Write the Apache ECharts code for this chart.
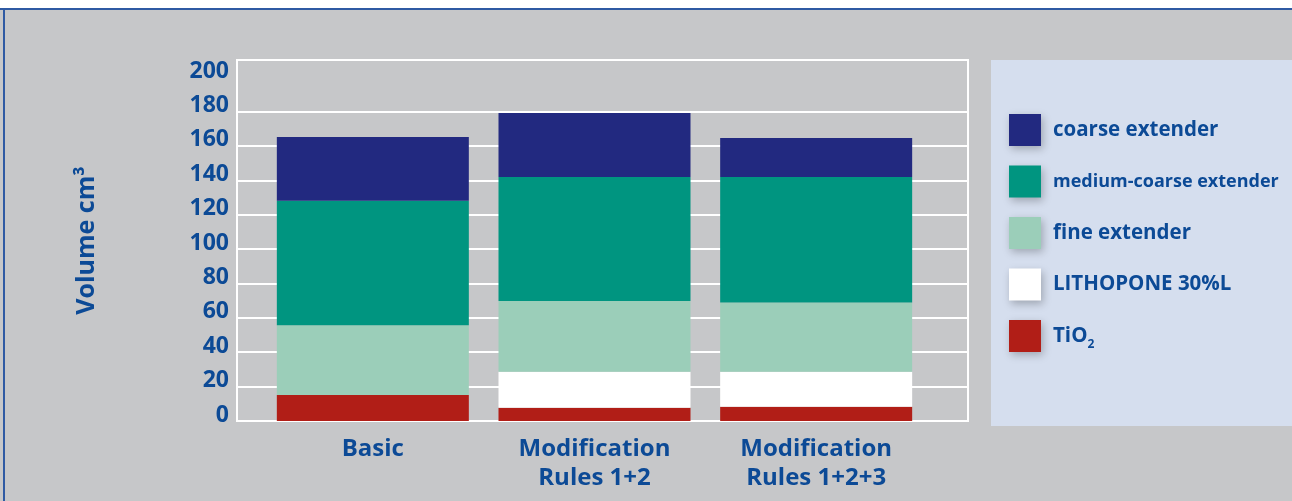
<!DOCTYPE html>
<html>
<head>
<meta charset="utf-8">
<script src="https://cdn.jsdelivr.net/npm/echarts@6/dist/echarts.min.js"></script>
<style>
html, body { margin: 0; padding: 0; background: #fff; }
#chart { width: 1292px; height: 501px; }
</style>
</head>
<body>
<div id="chart"></div>
<script>
// data (volume in cm3), bottom of stack first
var categories = ['Basic', 'Modification\nRules 1+2', 'Modification\nRules 1+2+3'];
var tio2 = [15.1, 7.7, 8.3];
var lithopone = [0, 20.9, 20.3];
var fineExt = [40.6, 41.2, 40.4];
var mediumExt = [72.4, 72.2, 73.0];
var coarseExt = [37.1, 37.1, 22.6];
var legendOrder = ['coarse extender', 'medium-coarse extender', 'fine extender', 'LITHOPONE 30%L', 'TiO2'];

var textBlue = '#0c4a96';
var fontName = 'Open Sans';

function chart() {
  var chartDom = document.getElementById('chart');
  var myChart = echarts.init(chartDom);

  // split lines every 20 except the 200 one (reference has none there)
  var lineColors = [];
  for (var i = 0; i < 12; i++) lineColors.push(i === 10 ? 'rgba(0,0,0,0)' : '#ffffff');

  function bar(name, data, color) {
    return {
      name: name,
      type: 'bar',
      stack: 'vol',
      xAxisIndex: 1,
      yAxisIndex: 1,
      barWidth: 192,
      itemStyle: { color: color },
      data: data
    };
  }

  var option = {
    backgroundColor: '#c6c7c9',
    animation: false,
    graphic: {
      elements: [
        { type: 'rect', shape: { x: 0, y: 0, width: 1292, height: 8 }, style: { fill: '#ffffff' }, z: 0 },
        { type: 'rect', shape: { x: 0, y: 8, width: 1292, height: 2 }, style: { fill: '#2f5aa3' }, z: 0 },
        { type: 'rect', shape: { x: 3, y: 8, width: 2, height: 493 }, style: { fill: '#2f5aa3' }, z: 0 },
        { type: 'rect', shape: { x: 991, y: 60, width: 301, height: 366 }, style: { fill: '#d5deee' }, z: 0 }
      ]
    },
    legend: {
      orient: 'vertical',
      left: 1009,
      top: 114,
      padding: 0,
      itemWidth: 32,
      itemHeight: 32,
      itemGap: 19.5,
      icon: 'rect',
      data: legendOrder,
      itemStyle: { shadowBlur: 8, shadowColor: 'rgba(0,0,0,0.25)', shadowOffsetX: 2, shadowOffsetY: 3 },
      textStyle: {
        color: textBlue,
        fontFamily: fontName,
        fontWeight: 'bold',
        fontSize: 20.5,
        padding: [0, 0, 0, 7],
        rich: {
          s: { color: textBlue, fontFamily: fontName, fontWeight: 'bold', fontSize: 18 },
          b: { color: textBlue, fontFamily: fontName, fontWeight: 'bold', fontSize: 20.5 },
          sub: { color: textBlue, fontFamily: fontName, fontWeight: 'bold', fontSize: 12, padding: [17, 0, 0, 0] }
        }
      },
      formatter: function (name) {
        if (name === 'TiO2') return '{b|TiO}{sub|2}';
        if (name === 'medium-coarse extender') return '{s|' + name + '}';
        return name;
      }
    },
    grid: [
      { left: 237, right: 324, top: 60, bottom: 80, show: true, borderColor: '#ffffff', borderWidth: 2, backgroundColor: 'transparent' },
      { left: 262, right: 365, top: 60, bottom: 80 }
    ],
    xAxis: [
      { gridIndex: 0, type: 'value', show: false },
      {
        gridIndex: 1,
        type: 'category',
        data: categories,
        axisLine: { show: false },
        axisTick: { show: false },
        axisLabel: {
          color: textBlue,
          fontFamily: fontName,
          fontWeight: 'bold',
          fontSize: 24,
          lineHeight: 29,
          margin: 14,
          interval: 0
        }
      }
    ],
    yAxis: [
      {
        gridIndex: 0,
        type: 'value',
        min: 0,
        max: 210,
        interval: 20,
        name: 'Volume cm\u00b3',
        nameLocation: 'middle',
        nameGap: 138,
        nameTextStyle: { color: textBlue, fontFamily: fontName, fontWeight: 'bold', fontSize: 25 },
        axisLine: { show: false },
        axisTick: { show: false },
        splitLine: { show: true, lineStyle: { color: lineColors, width: 2 } },
        axisLabel: {
          color: textBlue,
          fontFamily: fontName,
          fontWeight: 'bold',
          fontSize: 23,
          margin: 8,
          lineHeight: 12,
          verticalAlign: 'bottom',
          showMaxLabel: false,
          formatter: function (v) { return v % 20 === 0 ? String(v) : ''; }
        }
      },
      { gridIndex: 1, type: 'value', min: 0, max: 210, show: false }
    ],
    series: [
      bar('TiO2', tio2, '#b11e17'),
      bar('LITHOPONE 30%L', lithopone, '#ffffff'),
      bar('fine extender', fineExt, '#9bceb9'),
      bar('medium-coarse extender', mediumExt, '#009580'),
      bar('coarse extender', coarseExt, '#222980')
    ]
  };

  option && myChart.setOption(option);
}

window.onload = function (e) {
  chart();
};
</script>
</body>
</html>
